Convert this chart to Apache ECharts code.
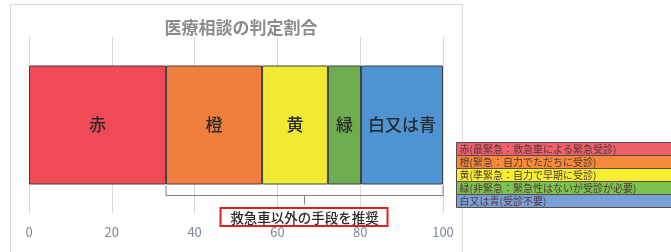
<!DOCTYPE html>
<html>
<head>
<meta charset="utf-8">
<style>
  html, body { margin: 0; padding: 0; background: #fff; }
  #chart { width: 671px; height: 252px; }
</style>
<script src="https://cdn.jsdelivr.net/npm/echarts@6/dist/echarts.min.js"></script>
</head>
<body>
<div id="chart"></div>
<script>
// 医療相談の判定割合 — 100% stacked single bar

const TITLE = '医療相談の判定割合';
const categories = ['判定'];
const seriesNames = ['赤', '橙', '黄', '緑', '白又は青'];
const seriesValues = [33.1, 23.2, 15.9, 8.0, 19.8];
const barColors = ['#ef4a55', '#f07e3f', '#f2ea32', '#6fac50', '#4f94d2'];
const xTicks = [0, 20, 40, 60, 80, 100];

const legendLabels = [
  '赤(最緊急：救急車による緊急受診)',
  '橙(緊急：自力でただちに受診)',
  '黄(準緊急：自力で早期に受診)',
  '緑(非緊急：緊急性はないが受診が必要)',
  '白又は青(受診不要)',
];
const legendColors = ['#f0606a', '#f48a3a', '#f5ef30', '#7cc24e', '#7aa0d8'];

const bracketLabel = '救急車以外の手段を推奨';
const bracketFrom = 1; // first segment covered (橙)

const FONT = '"Noto Sans CJK JP", "Noto Sans", sans-serif';
const BAR_W = 119;

const chart = echarts.init(document.getElementById('chart'), null, { renderer: 'canvas' });

chart.setOption({
  animation: false,
  backgroundColor: '#fff',
  textStyle: { fontFamily: FONT },
  title: {
    text: TITLE,
    left: 236,
    top: 14,
    textAlign: 'center',
    textStyle: { fontSize: 17, fontWeight: 'bold', color: '#8c8c8c', fontFamily: FONT },
  },
  grid: { left: 29, right: 228, top: 37, bottom: 39 },
  xAxis: {
    type: 'value',
    min: xTicks[0],
    max: xTicks[xTicks.length - 1],
    interval: xTicks[1] - xTicks[0],
    axisLine: { show: false },
    axisTick: { show: false },
    splitLine: { lineStyle: { color: '#d9d9d9', width: 1 } },
    axisLabel: { color: '#7d8899', fontSize: 13, margin: 13, fontFamily: FONT },
  },
  yAxis: {
    type: 'category',
    data: categories,
    show: false,
  },
  series: seriesNames.map((name, i) => ({
    name,
    type: 'bar',
    stack: 'total',
    barWidth: BAR_W,
    data: [seriesValues[i]],
    itemStyle: { color: barColors[i], borderColor: '#404040', borderWidth: 1 },
    label: {
      show: true,
      position: 'inside',
      formatter: name,
      color: '#2a2a2a',
      fontSize: 17,
      fontWeight: 500,
      fontFamily: FONT,
    },
  })),
});

// bracket + label + legend, positioned from the axes
const cum = [0];
seriesValues.forEach((v, i) => cum.push(cum[i] + v));
const x0 = chart.convertToPixel({ xAxisIndex: 0 }, cum[bracketFrom]);
const x1 = chart.convertToPixel({ xAxisIndex: 0 }, cum[cum.length - 1]);
const yc = chart.convertToPixel({ yAxisIndex: 0 }, categories[0]);
const yTop = yc + BAR_W / 2 + 1;
const yMid = yTop + 10;
const xm = (x0 + x1) / 2;

const graphics = [
  {
    type: 'rect',
    shape: { x: 10.5, y: 4.5, width: 452, height: 270 },
    style: { fill: null, stroke: '#d9d9d9', lineWidth: 1 },
    silent: true,
    z: -1,
  },
  {
    type: 'polyline',
    shape: { points: [[x0, yTop], [x0, yMid], [x1, yMid], [x1, yTop]] },
    style: { stroke: '#808080', lineWidth: 1, fill: null },
  },
  {
    type: 'line',
    shape: { x1: xm, y1: yMid, x2: xm, y2: yMid + 9 },
    style: { stroke: '#808080', lineWidth: 1 },
  },
  {
    type: 'rect',
    shape: { x: xm - 84, y: 208, width: 167, height: 18 },
    style: { fill: '#fff', stroke: '#e02020', lineWidth: 2 },
    z: 10,
  },
  {
    type: 'text',
    x: xm,
    y: 217.5,
    style: {
      text: bracketLabel, fill: '#2a2a2a', fontSize: 13.5, fontWeight: 500, fontFamily: FONT,
      align: 'center', verticalAlign: 'middle',
    },
    z: 11,
  },
];

const LX = 456.5, LY = 142.5, LH = 13, LW = 230;
legendLabels.forEach((t, i) => {
  graphics.push({
    type: 'rect',
    shape: { x: LX, y: LY + i * LH, width: LW, height: LH },
    style: { fill: legendColors[i], stroke: '#5a4a4a', lineWidth: 1 },
    z: 20,
  });
  graphics.push({
    type: 'text',
    x: LX + 3,
    y: LY + i * LH + LH / 2 + 0.5,
    style: {
      text: t, fill: '#503838', fontSize: 10, fontFamily: FONT,
      align: 'left', verticalAlign: 'middle',
    },
    z: 21,
  });
});

chart.setOption({ graphic: graphics });
</script>
</body>
</html>
